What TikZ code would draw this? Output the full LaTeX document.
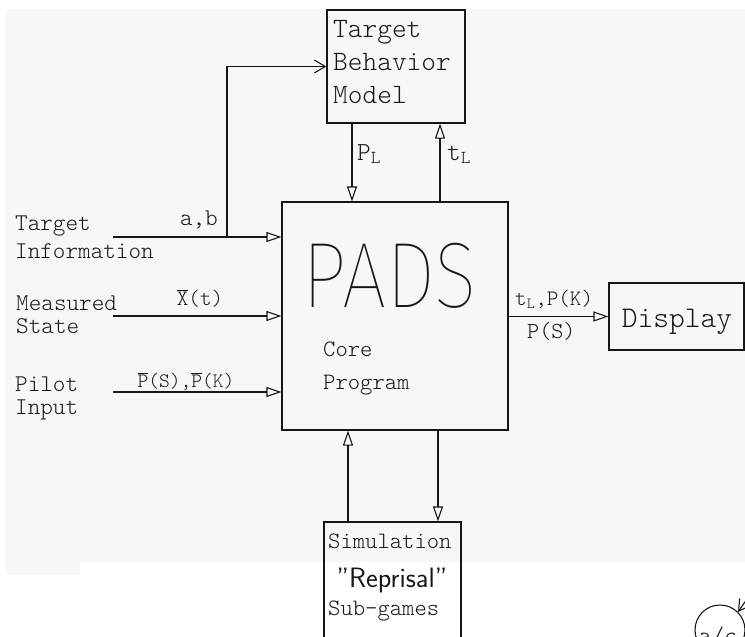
\documentclass[tikz,border=0pt]{standalone}
\usepackage{fontspec}
\setmonofont{lmmonolt10-regular.otf}
\newfontfamily\padsfont{Fira Sans Thin}
\usepackage{tikz}
\usetikzlibrary{arrows.meta}
\definecolor{scangray}{RGB}{247,247,247}
\definecolor{plotink}{RGB}{22,22,22}
\newcommand{\barred}[1]{$\overline{\mbox{#1}}$}
\tikzset{
  blk/.style={draw=plotink, line width=1.2pt, inner sep=0pt},
  plot/.style={font=\ttfamily\fontsize{23.5}{33}\selectfont, text=plotink,
    inner sep=0pt, align=left},
  siglabel/.style={font=\ttfamily\fontsize{22}{24}\selectfont, text=plotink,
    inner sep=0pt},
  sig/.style={-{Triangle[open, length=15pt, width=10pt]}, line width=1.1pt,
    draw=plotink},
  feed/.style={-{Straight Barb[length=11pt, width=13pt]}, line width=1.1pt,
    draw=plotink},
}

\begin{document}
\begin{tikzpicture}[x=1pt, y=-1pt]
  \useasboundingbox (0,0) rectangle (745,637);
  \clip (0,0) rectangle (745,637);
  \fill[scangray] (5,9) rectangle (745,562);
  \fill[scangray] (5,562) rectangle (80,575);

  % boxes
  \node[blk, minimum width=138pt, minimum height=113pt] (tbm) at (396,66.5) {};
  \node[blk, minimum width=226pt, minimum height=228pt] (core) at (395,316) {};
  \node[blk, minimum width=135pt, minimum height=67pt] (disp) at (676.5,316.5) {};
  \node[blk, minimum width=137pt, minimum height=125pt] (sim) at (392.5,584.5) {};

  % box texts (base = last line)
  \node[plot, font=\ttfamily\fontsize{28}{33}\selectfont, anchor=base west] (tbmtxt) at (333,103)
    {Target\\Behavior\\Model};
  \node[plot, font=\padsfont\fontsize{93}{93}\selectfont, anchor=base] (pads) at (390,307)
    {\scalebox{0.85}[1]{PADS}};
  \node[plot, anchor=base west] (coretxt) at (323,389) {Core\\Program};
  \node[plot, font=\ttfamily\fontsize{30}{34}\selectfont, anchor=base] (disptxt) at (677,327) {Display};
  \node[plot, anchor=base west] (simtxt) at (328,548) {Simulation};
  \node[plot, font=\sffamily\fontsize{28}{30}\selectfont, fill=white, inner sep=1pt,
    anchor=base] (reptxt) at (392,587) {"Reprisal"};
  \node[plot, anchor=base west] (subtxt) at (328,615) {Sub-games};

  % inputs on the left
  \node[plot, font=\ttfamily\fontsize{24}{28}\selectfont, anchor=base west] (tinfo) at (15,258)
    {Target\\Information};
  \node[plot, font=\ttfamily\fontsize{24}{23}\selectfont, anchor=base west] (mstate) at (16,333)
    {Measured\\State};
  \node[plot, font=\ttfamily\fontsize{24}{23}\selectfont, anchor=base west] (pinput) at (15,414)
    {Pilot\\Input};

  \coordinate (tin) at (113,237);
  \coordinate (min) at (113,316);
  \coordinate (pin) at (113,392);
  \coordinate (ab) at (227,237);
  \coordinate (pl) at (352,0);
  \coordinate (tl) at (440,0);
  \coordinate (up) at (348,0);
  \coordinate (dn) at (438,0);

  \draw[sig] (tin) -- (core.west |- tin);
  \draw[sig] (min) -- (core.west |- min);
  \draw[sig] (pin) -- (core.west |- pin);
  \draw[feed] (ab) |- (tbm.west);
  \draw[sig] (tbm.south -| pl) -- (core.north -| pl);
  \draw[sig] (core.north -| tl) -- (tbm.south -| tl);
  \draw[sig] (sim.north -| up) -- (core.south -| up);
  \draw[sig] (core.south -| dn) -- (sim.north -| dn);
  \draw[sig] (core.east |- disp) -- (disp.west);

  % signal labels
  \node[siglabel, font=\ttfamily\fontsize{24}{24}\selectfont, anchor=base east] (ablbl) at (218,225) {a,b};
  \node[siglabel, anchor=base] (xlbl) at (200,305) {\barred{X}(t)};
  \node[siglabel, font=\ttfamily\fontsize{20.5}{24}\selectfont, anchor=base] (plbl) at (186,387)
    {\barred{P}(S),\barred{P}(K)};
  \node[siglabel, font=\ttfamily\fontsize{26}{26}\selectfont, anchor=base west] (pllbl) at (357,160)
    {P\textsubscript{L}};
  \node[siglabel, font=\ttfamily\fontsize{26}{26}\selectfont, anchor=base west] (tllbl) at (447,160)
    {t\textsubscript{L}};
  \node[siglabel, anchor=base west] (dlbl) at (515,305) {t\textsubscript{L},P(K)};
  \node[siglabel, font=\ttfamily\fontsize{23}{24}\selectfont, anchor=base west] (slbl) at (527,338) {P(S)};

  % cut-off part of the next figure
  \node[draw=plotink, line width=1.1pt, circle, minimum size=50pt, inner sep=0pt] (ac) at (720,630) {};
  \node[siglabel, font=\ttfamily\fontsize{24}{24}\selectfont, anchor=base] (acl) at (718,643) {a/c};
  \coordinate (acin) at (756,586);
  \draw[feed] (acin) -- (ac.45);
\end{tikzpicture}
\end{document}
